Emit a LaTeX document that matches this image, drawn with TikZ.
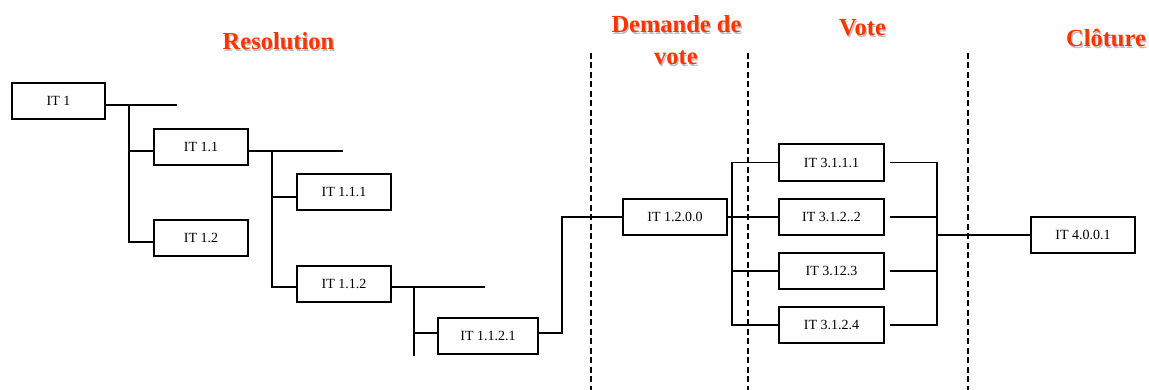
\documentclass[tikz,border=0pt]{standalone}
\usepackage{fontspec}
\setmainfont{Liberation Serif}
\definecolor{headred}{HTML}{FF3300}
\begin{document}
\begin{tikzpicture}[x=1pt,y=-1pt,
  box/.style={draw,line width=1.3pt,minimum height=36pt,inner sep=0pt,font=\fontsize{14}{16}\selectfont},
  link/.style={line width=1.3pt},
  sep/.style={line width=1.4pt,dash pattern=on 6pt off 3.5pt},
  head/.style={font=\bfseries\fontsize{24.5}{26}\selectfont,text=headred,anchor=base,inner sep=0pt},
  shade/.style={head,text=black!25}]
\useasboundingbox (0,0) rectangle (1149,390);
% headings (with soft shadow)
\node[shade] (h1s) at (279.7,51.3) {Resolution};
\node[head]  (h1)  at (278.5,50) {Resolution};
\node[shade] (h2s) at (677.7,34.3) {Demande de};
\node[head]  (h2)  at (676.5,33) {Demande de};
\node[shade] (h3s) at (677.2,66.3) {vote};
\node[head]  (h3)  at (676,65) {vote};
\node[shade] (h4s) at (863.7,37.3) {Vote};
\node[head]  (h4)  at (862.5,36) {Vote};
\node[shade] (h5s) at (1107.2,48.3) {Clôture};
\node[head]  (h5)  at (1106,47) {Clôture};
% separators
\foreach \n/\x in {a/591,b/748,c/968}{
  \coordinate (d\n t) at (\x,53);
  \coordinate (d\n b) at (\x,390);
  \draw[sep] (d\n t) -- (d\n b);
}
% boxes
\node[box,minimum width=93pt]  (it1)    at (58.5,101) {IT 1};
\node[box,minimum width=94pt]  (it11)   at (201,147) {IT 1.1};
\node[box,minimum width=94pt]  (it12)   at (201,238) {IT 1.2};
\node[box,minimum width=94pt]  (it111)  at (344,192) {IT 1.1.1};
\node[box,minimum width=94pt]  (it112)  at (344,284) {IT 1.1.2};
\node[box,minimum width=100pt] (it1121) at (488,336) {IT 1.1.2.1};
\node[box,minimum width=104pt] (it1200) at (675,217) {IT 1.2.0.0};
\node[box,minimum width=105pt,minimum height=37pt] (it311) at (831.5,162.5) {IT 3.1.1.1};
\node[box,minimum width=105pt] (it312) at (831.5,217) {IT 3.1.2..2};
\node[box,minimum width=105pt] (it313) at (831.5,271) {IT 3.12.3};
\node[box,minimum width=105pt] (it314) at (831.5,325) {IT 3.1.2.4};
\node[box,minimum width=104pt] (it4001) at (1083,235) {IT 4.0.0.1};
% tree connectors
\coordinate (e1) at (177,105);
\coordinate (v1) at (129,105);
\draw[link] ([yshift=-4pt]it1.east) -- (e1);
\draw[link] ([yshift=-4pt]it11.west) -| (v1);
\draw[link] ([yshift=-4pt]it12.west) -| (v1);
\coordinate (e2) at (343,151);
\coordinate (v2) at (272,151);
\draw[link] ([yshift=-4pt]it11.east) -- (e2);
\draw[link] ([yshift=-5pt]it111.west) -| (v2);
\draw[link] ([yshift=-3pt]it112.west) -| (v2);
\coordinate (e3) at (485,287);
\coordinate (v3) at (414,287);
\coordinate (v3b) at (414,356);
\draw[link] ([yshift=-3pt]it112.east) -- (e3);
\draw[link] (v3) -- (v3b);
\draw[link] ([yshift=3pt]it1121.west) -| (v3);
\coordinate (v4) at (562,217);
\draw[link] ([yshift=3pt]it1121.east) -| (v4) -- (it1200.west);
\coordinate (v5) at (732,217);
\draw[link] (it1200.east) -- (v5);
\draw[link] (it311.west) -| (v5);
\draw[link] (it312.west) -- (v5);
\draw[link] (it313.west) -| (v5);
\draw[link] (it314.west) -| (v5);
\coordinate (v6) at (937,235);
\draw[link] ([xshift=5pt]it311.east) -| (v6);
\draw[link] ([xshift=5pt]it312.east) -- (it312.east -| v6);
\draw[link] ([xshift=5pt]it313.east) -- (it313.east -| v6);
\draw[link] ([xshift=5pt]it314.east) -| (v6);
\draw[link] (v6) -- (it4001.west);
\end{tikzpicture}
\end{document}
